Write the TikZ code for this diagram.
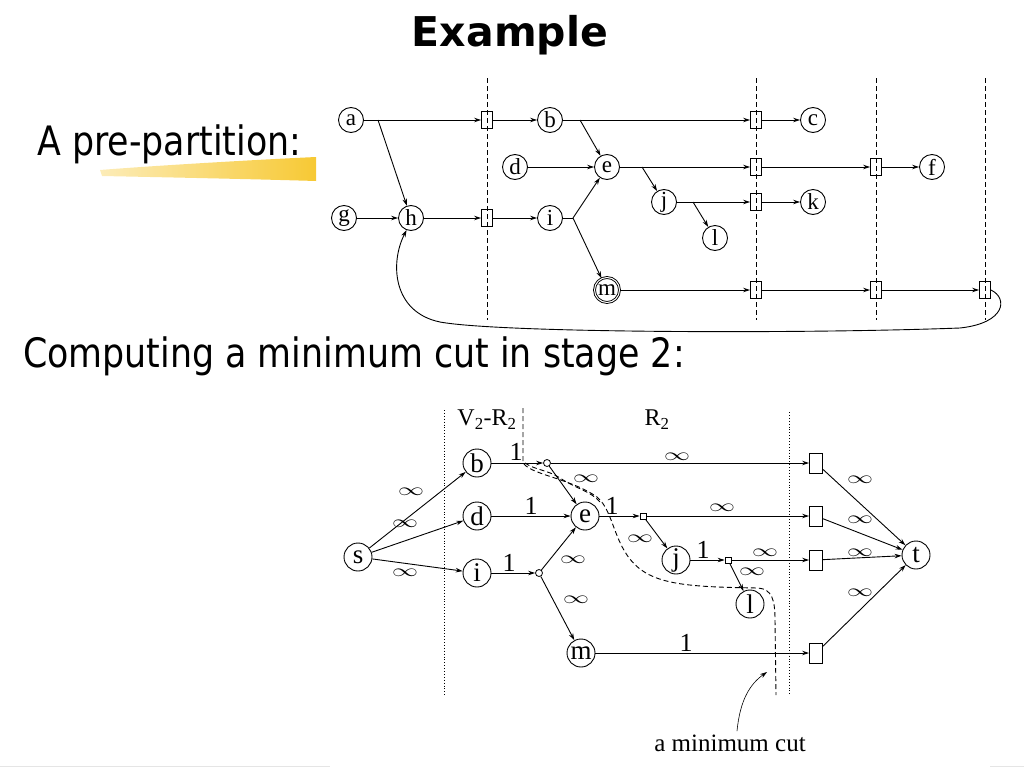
\documentclass[tikz,border=0pt]{standalone}
\usepackage{fontspec}
\newfontfamily\slidefont[FakeStretch=0.86]{DejaVu Sans}
\newfontfamily\titlefont{DejaVu Sans}
\newfontfamily\figfont{Liberation Serif}
\usetikzlibrary{arrows.meta,calc}
\definecolor{hilite}{RGB}{247,201,52}
\newcommand{\infl}{\scalebox{1.5}[1]{$\infty$}}

\begin{document}
\begin{tikzpicture}[x=1pt,y=-1pt]
\tikzset{
    vertex/.style={circle,draw,line width=0.9pt,minimum size=25pt,inner sep=0pt,font=\figfont\fontsize{23}{23}\selectfont},
    bvertex/.style={circle,draw,line width=0.9pt,minimum size=28pt,inner sep=0pt,font=\figfont\fontsize{27}{27}\selectfont},
    cutbox/.style={draw,line width=0.9pt,minimum width=11pt,minimum height=17pt,inner sep=0pt},
    sinkbox/.style={draw,line width=0.9pt,minimum width=13pt,minimum height=20pt,inner sep=0pt},
    junc/.style={circle,draw,line width=0.8pt,minimum size=7pt,inner sep=0pt},
    jsq/.style={draw,line width=0.8pt,minimum size=6pt,inner sep=0pt},
    edge/.style={->,>={Stealth[length=7pt,width=4.5pt]},line width=0.9pt},
    wt/.style={font=\figfont\fontsize{26}{26}\selectfont,inner sep=0pt},
    inft/.style={font=\fontsize{19}{19}\selectfont,inner sep=0pt},
    stage/.style={line width=0.9pt,dash pattern=on 5pt off 3pt}
}
\useasboundingbox (0,0) rectangle (1024,768);
% slide texts
\shade[left color=hilite!35,right color=hilite] (100,170) .. controls (150,166) and (250,160) .. (316,157)
  -- (316,181) .. controls (250,179) and (150,177) .. (102,176) -- cycle;
\node[anchor=base,font=\titlefont\bfseries\fontsize{41}{41}\selectfont] (title) at (510,47) {Example};
\node[anchor=base west,inner sep=0pt,font=\slidefont\fontsize{40.5}{40.5}\selectfont] (pre) at (37,155) {A pre-partition:};
\node[anchor=base west,inner sep=0pt,font=\slidefont\fontsize{40.5}{40.5}\selectfont] (comp) at (23,367) {Computing a minimum cut in stage 2:};
\draw[black!10] (0,766) -- (330,766);
\draw[black!10] (990,766) -- (1024,766);

% pre-partition: vertices
\node[vertex] (a) at (351,120) {a};
\node[vertex] (b) at (550,120) {b};
\node[vertex] (c) at (813,120) {c};
\node[vertex] (d) at (515,167) {d};
\node[vertex] (e) at (607,167) {e};
\node[vertex] (f) at (932,167) {f};
\node[vertex] (g) at (344,218) {g};
\node[vertex] (h) at (411,218) {h};
\node[vertex] (i) at (550,218) {i};
\node[vertex] (j) at (664,202) {j};
\node[vertex] (k) at (813,202) {k};
\node[vertex] (l) at (715,238) {l};
\node[vertex,double,double distance=1pt] (m) at (607,290) {m};
% stage borders
\foreach \x in {487,756,876,985}
  \draw[stage] (\x,78) -- (\x,320);
\node[cutbox] (p1a) at (487,120) {};
\node[cutbox] (p1h) at (487,218) {};
\node[cutbox] (p2b) at (756,120) {};
\node[cutbox] (p2e) at (756,167) {};
\node[cutbox] (p2j) at (756,202) {};
\node[cutbox] (p2m) at (756,290) {};
\node[cutbox] (p3e) at (876,167) {};
\node[cutbox] (p3m) at (876,290) {};
\node[cutbox] (p4m) at (985,290) {};
\coordinate (ah) at (378,120);
\coordinate (bb) at (580,120);
\coordinate (ej) at (642,167);
\coordinate (jl) at (693,202);
\coordinate (ib) at (573,218);
% edges
\draw[line width=0.9pt] (i) -- (ib);
\path[edge]
(a) edge (p1a)
(ah) edge (h)
(p1a) edge (b)
(g) edge (h)
(h) edge (p1h)
(p1h) edge (i)
(b) edge (p2b)
(bb) edge (e)
(p2b) edge (c)
(d) edge (e)
(e) edge (p2e)
(p2e) edge (p3e)
(p3e) edge (f)
(ej) edge (j)
(j) edge (p2j)
(p2j) edge (k)
(jl) edge (l)
(ib) edge (e)
(ib) edge (m)
(m) edge (p2m)
(p2m) edge (p3m)
(p3m) edge (p4m)
;
\draw[edge] (p4m.east) .. controls (1008,298) and (1006,323) .. (960,328)
  .. controls (800,334) and (500,333) .. (440,322)
  .. controls (392,312) and (390,262) .. (h.250);

% stage 2: vertices
\node[bvertex] (s) at (358,557) {s};
\node[bvertex] (b2) at (477,463) {b};
\node[bvertex] (d2) at (477,516) {d};
\node[bvertex] (i2) at (477,573) {i};
\node[bvertex] (e2) at (585,516) {e};
\node[bvertex] (j2) at (676,560) {j};
\node[bvertex] (l2) at (750,604) {l};
\node[bvertex] (m2) at (581,653) {m};
\node[bvertex] (t) at (916,555) {t};
\node[junc] (jb) at (547,463) {};
\node[junc] (ji) at (539,573) {};
\node[jsq] (se) at (643,516) {};
\node[jsq] (sj) at (728,560) {};
\node[sinkbox] (tb1) at (816,463) {};
\node[sinkbox] (tb2) at (816,516) {};
\node[sinkbox] (tb3) at (816,560) {};
\node[sinkbox] (tb4) at (816,653) {};
% regions
\draw[dotted,line width=0.9pt] (444,410) -- (444,695);
\draw[dotted,line width=0.9pt] (789,412) -- (789,695);
\node[font=\figfont\fontsize{24}{24}\selectfont] (vr) at (487,420) {V\textsubscript{2}-R\textsubscript{2}};
\node[font=\figfont\fontsize{24}{24}\selectfont] (r2) at (657,420) {R\textsubscript{2}};
% edges
\path[edge]
(s) edge (b2)
(s) edge (d2)
(s) edge (i2)
(b2) edge (jb)
(d2) edge (e2)
(i2) edge (ji)
(jb) edge (e2)
(jb) edge (tb1)
(e2) edge (se)
(se) edge (tb2)
(se) edge (j2)
(ji) edge (e2)
(ji) edge (m2)
(j2) edge (sj)
(sj) edge (tb3)
(sj) edge (l2)
(m2) edge (tb4)
(tb1) edge (t)
(tb2) edge (t)
(tb3) edge (t)
(tb4) edge (t)
;
% capacities
\node[wt] at (516,452) {1};
\node[wt] at (531,506) {1};
\node[wt] at (509,563) {1};
\node[wt] at (612,506) {1};
\node[wt] at (703,550) {1};
\node[wt] at (686,643) {1};
\node[inft] at (411,492) {\infl};
\node[inft] at (405,524) {\infl};
\node[inft] at (405,573) {\infl};
\node[inft] at (586,479) {\infl};
\node[inft] at (677,457) {\infl};
\node[inft] at (722,508) {\infl};
\node[inft] at (640,539) {\infl};
\node[inft] at (573,560) {\infl};
\node[inft] at (576,600) {\infl};
\node[inft] at (765,553) {\infl};
\node[inft] at (752,572) {\infl};
\node[inft] at (860,480) {\infl};
\node[inft] at (860,520) {\infl};
\node[inft] at (860,553) {\infl};
\node[inft] at (860,593) {\infl};
% the cut
\draw[stage] (523,408) -- (523,462) .. controls (527,474) and (570,478) .. (597,497)
  .. controls (615,512) and (613,548) .. (640,569)
  .. controls (662,586) and (700,587) .. (758,588)
  .. controls (772,589) and (775,600) .. (775,620) -- (776,695);
\draw[stage] (525,463) .. controls (535,470) and (548,470) .. (560,478)
  .. controls (575,488) and (592,492) .. (600,502);
\node[font=\figfont\fontsize{25}{25}\selectfont] (cutlbl) at (730,743) {a minimum cut};
\coordinate (cuttip) at (767,672);
\draw[edge,line width=0.6pt] ([xshift=7pt]cutlbl.north) .. controls (740,700) and (750,684) .. (cuttip);
\end{tikzpicture}
\end{document}
